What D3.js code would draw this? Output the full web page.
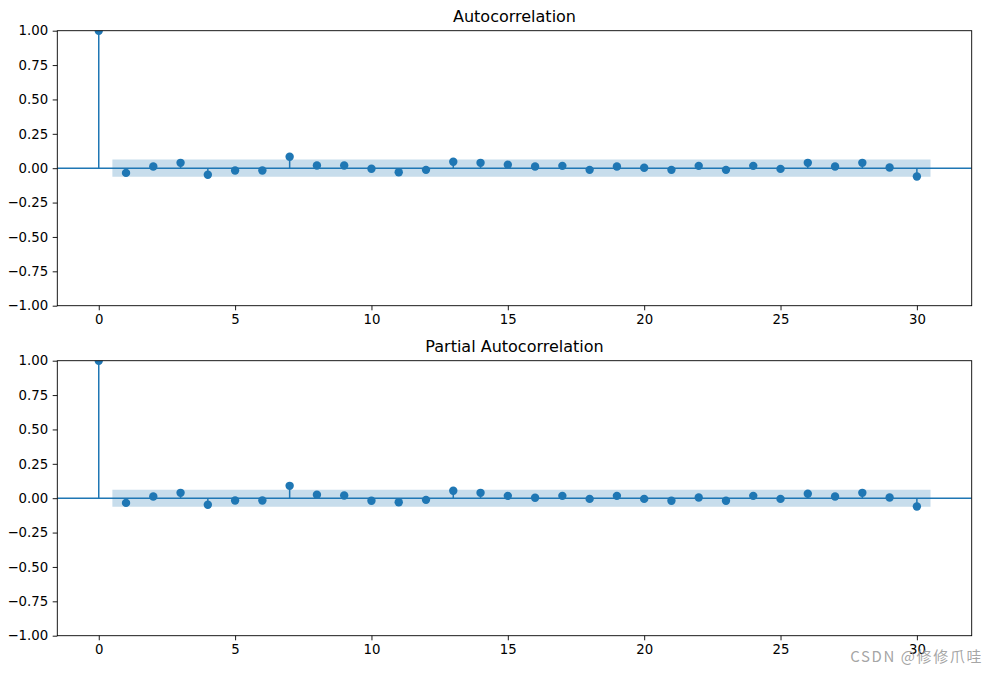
<!DOCTYPE html>
<html>
<head>
<meta charset="utf-8">
<script src="https://cdn.jsdelivr.net/npm/d3@7"></script>
<style>
  html, body { margin: 0; padding: 0; background: #fff; }
  svg { display: block; }
</style>
</head>
<body>
<svg id="chart" width="998" height="673"></svg>
<script>
// ---- Data ----
const lags = d3.range(0, 31);
const acfValues = [1.0, -0.034, 0.012, 0.039, -0.048, -0.017, -0.017, 0.083, 0.020, 0.020,
  -0.004, -0.029, -0.012, 0.047, 0.039, 0.025, 0.012, 0.017, -0.012, 0.012,
  0.003, -0.012, 0.017, -0.012, 0.017, -0.005, 0.039, 0.012, 0.039, 0.005, -0.060];
const pacfValues = [1.0, -0.034, 0.012, 0.039, -0.048, -0.017, -0.017, 0.090, 0.025, 0.020,
  -0.019, -0.029, -0.012, 0.054, 0.039, 0.017, 0.003, 0.017, -0.005, 0.017,
  -0.005, -0.019, 0.005, -0.019, 0.017, -0.005, 0.032, 0.012, 0.039, 0.005, -0.060];
const acfBand = 0.063;
const pacfBand = 0.062;
const xTicks = [0, 5, 10, 15, 20, 25, 30];
const yTicks = [-1.0, -0.75, -0.5, -0.25, 0.0, 0.25, 0.5, 0.75, 1.0];
const titles = ["Autocorrelation", "Partial Autocorrelation"];
const watermark = "CSDN @修修爪哇";

// ---- Layout ----
const svg = d3.select("#chart");
const color = "#1f77b4";
const left = 57.3, right = 971.7;
const panels = [
  { top: 30.7, bottom: 305.7, values: acfValues, band: acfBand, title: titles[0] },
  { top: 360.7, bottom: 635.7, values: pacfValues, band: pacfBand, title: titles[1] }
];
const font = "'DejaVu Sans', sans-serif";

panels.forEach((p, i) => {
  const x = d3.scaleLinear().domain([-1.52, 32.01]).range([left, right]);
  const y = d3.scaleLinear().domain([-1, 1]).range([p.bottom, p.top]);
  const g = svg.append("g");
  const clipId = "clip" + i;
  svg.append("clipPath").attr("id", clipId).append("rect")
    .attr("x", left).attr("y", p.top).attr("width", right - left).attr("height", p.bottom - p.top);
  const plot = g.append("g").attr("clip-path", `url(#${clipId})`);

  // confidence band (lags 1..30, each extended by half a lag)
  const bandX = [0.5].concat(lags.slice(1).map(d => d + 0.5));
  plot.append("path")
    .datum(bandX)
    .attr("d", d3.area().x(d => x(d)).y0(y(-p.band)).y1(y(p.band)))
    .attr("fill", color).attr("fill-opacity", 0.25).attr("stroke", "none");

  // zero line
  plot.append("line")
    .attr("x1", left).attr("x2", right)
    .attr("y1", y(0)).attr("y2", y(0))
    .attr("stroke", color).attr("stroke-width", 1.5);

  // stems
  plot.selectAll(".stem").data(lags).enter().append("line")
    .attr("x1", d => x(d)).attr("x2", d => x(d))
    .attr("y1", y(0)).attr("y2", d => y(p.values[d]))
    .attr("stroke", color).attr("stroke-width", 1.5);

  // markers
  plot.selectAll(".pt").data(lags).enter().append("circle")
    .attr("cx", d => x(d)).attr("cy", d => y(p.values[d]))
    .attr("r", 4.2).attr("fill", color);

  // axes
  const xAxis = d3.axisBottom(x).tickValues(xTicks).tickFormat(d3.format("d"))
    .tickSizeInner(4.6).tickSizeOuter(0).tickPadding(4.5);
  const yAxis = d3.axisLeft(y).tickValues(yTicks).tickFormat(d3.format(".2f"))
    .tickSizeInner(4.6).tickSizeOuter(0).tickPadding(4.5);
  const gx = g.append("g").attr("transform", `translate(0,${p.bottom})`).call(xAxis);
  const gy = g.append("g").attr("transform", `translate(${left},0)`).call(yAxis);
  [gx, gy].forEach(a => {
    a.select(".domain").remove();
    a.selectAll("line").attr("stroke", "#000").attr("stroke-width", 0.9);
    a.selectAll("text").attr("font-family", font).attr("font-size", "13.3px").attr("fill", "#000");
  });
  gy.selectAll("text").text(d => d3.format(".2f")(d).replace("-", "\u2212"));

  // spines
  g.append("rect")
    .attr("x", left).attr("y", p.top)
    .attr("width", right - left).attr("height", p.bottom - p.top)
    .attr("fill", "none").attr("stroke", "#000").attr("stroke-width", 0.9);

  // title
  g.append("text")
    .attr("x", (left + right) / 2).attr("y", p.top - 8.7)
    .attr("text-anchor", "middle")
    .attr("font-family", font).attr("font-size", "16px").attr("fill", "#000")
    .text(p.title);
});

// watermark
svg.append("text")
  .attr("x", 983).attr("y", 662)
  .attr("text-anchor", "end")
  .attr("font-family", "'Noto Sans CJK SC', 'Liberation Sans', sans-serif")
  .attr("font-size", "15px").attr("letter-spacing", "1.6px")
  .attr("fill", "#9a9a9a").attr("fill-opacity", 0.9)
  .text(watermark);
</script>
</body>
</html>
